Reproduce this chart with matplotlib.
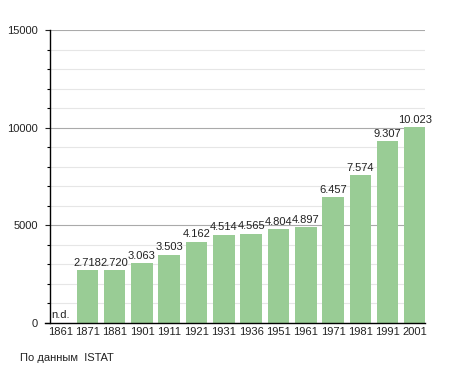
import matplotlib
matplotlib.use("Agg")
import matplotlib.pyplot as plt
from matplotlib.ticker import MultipleLocator

years = ["1861", "1871", "1881", "1901", "1911", "1921", "1931", "1936",
         "1951", "1961", "1971", "1981", "1991", "2001"]
population = [0, 2718, 2720, 3063, 3503, 4162, 4514, 4565,
              4804, 4897, 6457, 7574, 9307, 10023]
value_labels = ["n.d.", "2.718", "2.720", "3.063", "3.503", "4.162", "4.514", "4.565",
                "4.804", "4.897", "6.457", "7.574", "9.307", "10.023"]

plt.rcParams['font.family'] = ['Liberation Sans', 'DejaVu Sans']

fig = plt.figure(figsize=(4.55, 3.73), dpi=100)
ax = fig.add_axes([50/455, 1-323/373, 375/455, 293/373])

x = list(range(len(years)))
ax.bar(x, population, width=0.79, color="#99cc95", zorder=3)

for xi, v, lab in zip(x, population, value_labels):
    if lab == "n.d.":
        ax.text(xi - 0.33, 150, lab, ha="left", va="bottom", fontsize=8, color="#222222", zorder=4)
    else:
        ax.text(xi, v + 120, lab, ha="center", va="bottom", fontsize=8, color="#222222", zorder=4)

ax.set_xlim(-0.37, len(years) - 1 + 0.37)
ax.set_ylim(0, 15000)
ax.yaxis.set_major_locator(MultipleLocator(5000))
ax.yaxis.set_minor_locator(MultipleLocator(1000))
ax.grid(axis="y", which="major", color="#aaaaaa", linewidth=0.8, zorder=1)
ax.grid(axis="y", which="minor", color="#e6e6e6", linewidth=0.8, zorder=1)
ax.set_xticks(x)
ax.set_xticklabels(years)
ax.tick_params(axis="x", length=0, labelsize=8, pad=3, colors="#222222")
ax.tick_params(axis="y", which="major", length=3.6, width=0.8, labelsize=8, pad=5, colors="#222222")
ax.tick_params(axis="y", which="minor", length=2.2, width=0.8)
for s in ["top", "right"]:
    ax.spines[s].set_visible(False)
ax.spines["left"].set_linewidth(1.0)
ax.spines["bottom"].set_linewidth(1.0)
ax.spines["bottom"].set_bounds(-0.55, len(years) - 1 + 0.37)
ax.spines["bottom"].set_zorder(5)

fig.text(20/455, 1-358/373, "По данным  ISTAT", fontsize=8, ha="left", va="center", color="#222222")

fig.savefig("out.png", dpi=100)
